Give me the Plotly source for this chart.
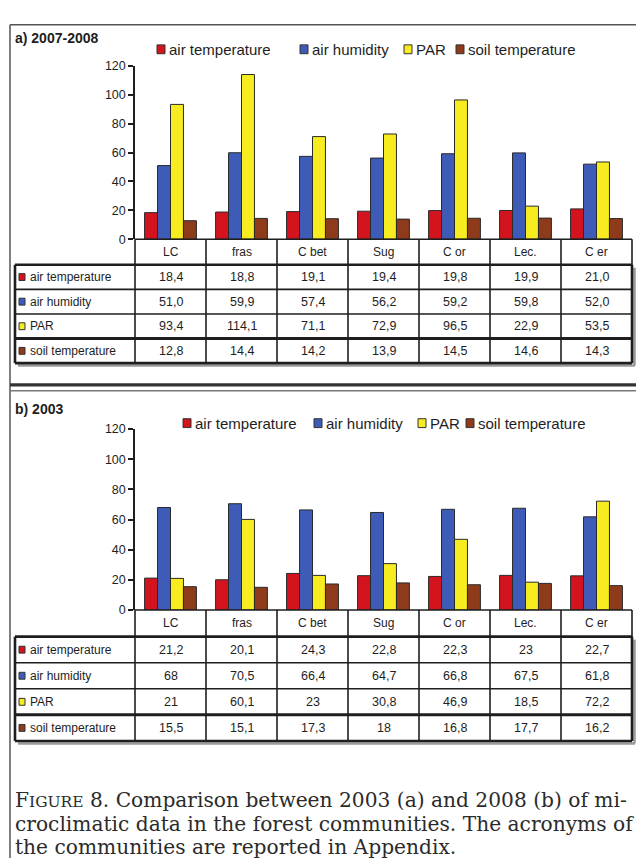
import plotly.graph_objects as go

# ---- data -------------------------------------------------------------
categories = ["LC", "fras", "C bet", "Sug", "C or", "Lec.", "C er"]
series_names = ["air temperature", "air humidity", "PAR", "soil temperature"]
series_colors = ["#D3141F", "#3E5BB7", "#F6EC1F", "#8E3B1B"]
y_ticks = [0, 20, 40, 60, 80, 100, 120]

# a) 2007-2008
air_temp_a = [18.4, 18.8, 19.1, 19.4, 19.8, 19.9, 21.0]
air_hum_a = [51.0, 59.9, 57.4, 56.2, 59.2, 59.8, 52.0]
par_a = [93.4, 114.1, 71.1, 72.9, 96.5, 22.9, 53.5]
soil_temp_a = [12.8, 14.4, 14.2, 13.9, 14.5, 14.6, 14.3]

# b) 2003
air_temp_b = [21.2, 20.1, 24.3, 22.8, 22.3, 23, 22.7]
air_hum_b = [68, 70.5, 66.4, 64.7, 66.8, 67.5, 61.8]
par_b = [21, 60.1, 23, 30.8, 46.9, 18.5, 72.2]
soil_temp_b = [15.5, 15.1, 17.3, 18, 16.8, 17.7, 16.2]

caption_lines = [
    "Comparison between 2003 (a) and 2008 (b) of mi-",
    "croclimatic data in the forest communities. The acronyms of",
    "the communities are reported in Appendix.",
]

# ---- page geometry (pixels) ------------------------------------------
W, H = 636, 865
SANS = "Liberation Sans, Arial, sans-serif"
SERIF = "DejaVu Serif, Liberation Serif, serif"
INK = "#1e1e1e"


def px(x):
    return x / W


def py(y):
    return 1 - y / H


COL_LEFT, COL_W = 135, 71
COL_RIGHT = COL_LEFT + COL_W * len(categories)
LABEL_LEFT = 15

panels = [
    dict(title="a) 2007-2008", series=[air_temp_a, air_hum_a, par_a, soil_temp_a],
         fmt=lambda v: f"{v:.1f}".replace(".", ","),
         title_y=32, legend_y=43,
         legend_sq=[157, 300, 404, 456],
         y_top=60, y_zero=236,
         rows=[262, 287, 312, 337, 362], xa="x", ya="y"),
    dict(title="b) 2003", series=[air_temp_b, air_hum_b, par_b, soil_temp_b],
         fmt=lambda v: f"{v:g}".replace(".", ","),
         title_y=409, legend_y=423,
         legend_sq=[183, 314, 418, 466],
         y_top=429, y_zero=613,
         rows=[640, 666.5, 693, 719.5, 746], xa="x2", ya="y2"),
]

fig = go.Figure()
shapes = []
annotations = []


def hline(x0, x1, y, width=1.5, color=INK):
    shapes.append(dict(type="line", xref="paper", yref="paper",
                       x0=px(x0), x1=px(x1), y0=py(y), y1=py(y),
                       line=dict(color=color, width=width)))


def vline(x, y0, y1, width=1.5, color=INK):
    shapes.append(dict(type="line", xref="paper", yref="paper",
                       x0=px(x), x1=px(x), y0=py(y0), y1=py(y1),
                       line=dict(color=color, width=width)))


def swatch(x, yc, color, w=7, h=8):
    shapes.append(dict(type="rect", xref="paper", yref="paper",
                       x0=px(x), x1=px(x + w), y0=py(yc + h / 2), y1=py(yc - h / 2),
                       fillcolor=color, line=dict(color="#333", width=1)))


def text(x, y, s, size=12.5, anchor="center", family=SANS, color=INK):
    annotations.append(dict(xref="paper", yref="paper", x=px(x), y=py(y),
                            text=s, showarrow=False, xanchor=anchor,
                            yanchor="middle", align=anchor if anchor != "center" else "center",
                            font=dict(family=family, size=size, color=color)))


for i, p in enumerate(panels):
    for name, color, vals in zip(series_names, series_colors, p["series"]):
        fig.add_trace(go.Bar(x=categories, y=vals, name=name,
                             marker=dict(color=color, line=dict(color="#2a2a2a", width=1)),
                             xaxis=p["xa"], yaxis=p["ya"], showlegend=False))

    suffix = "" if i == 0 else "2"
    fig.layout["xaxis" + suffix] = dict(
        domain=[px(COL_LEFT), px(COL_RIGHT)], range=[-0.5, len(categories) - 0.5],
        type="category", categoryorder="array", categoryarray=categories,
        showticklabels=False, ticks="", showline=False, showgrid=False,
        zeroline=False, anchor="y" + suffix, fixedrange=True)
    fig.layout["yaxis" + suffix] = dict(
        domain=[py(p["y_zero"]), py(p["y_top"])], range=[0, 120],
        tickvals=y_ticks, ticks="outside", ticklen=5, tickwidth=1.5, tickcolor=INK,
        showline=True, linecolor=INK, linewidth=1.5, showgrid=False, zeroline=False,
        tickfont=dict(family=SANS, size=12.5, color=INK),
        anchor="x" + suffix, fixedrange=True)

    # panel title and legend
    text(13, p["title_y"], f"<b>{p['title']}</b>", size=14, anchor="left")
    for name, color, sx in zip(series_names, series_colors, p["legend_sq"]):
        swatch(sx, p["legend_y"], color, w=8, h=9)
        text(sx + 10, p["legend_y"], name, size=15, anchor="left")

    # category header row
    yz, rows = p["y_zero"], p["rows"]
    hline(COL_LEFT, COL_RIGHT, yz, 1.5)
    for k in range(len(categories) + 1):
        vline(COL_LEFT + k * COL_W, yz, rows[-1], 1.6)
    for k, c in enumerate(categories):
        text(COL_LEFT + (k + 0.5) * COL_W, (yz + rows[0]) / 2, c, size=12)

    # data table
    hline(LABEL_LEFT + 3, COL_RIGHT + 3, rows[-1] + 2.5, 2.5, "#9a9a9a")
    vline(COL_RIGHT + 2.5, rows[0] + 3, rows[-1] + 2.5, 2.5, "#9a9a9a")
    hline(LABEL_LEFT, COL_RIGHT, rows[0], 2.6)
    hline(LABEL_LEFT, COL_RIGHT, rows[-1], 2.6)
    vline(LABEL_LEFT, rows[0], rows[-1], 2.6)
    vline(COL_RIGHT, rows[0], rows[-1], 2.6)
    for r in range(1, len(rows) - 1):
        hline(LABEL_LEFT, COL_RIGHT, rows[r], 3.0 if r == 3 else 1.6)
    for r, (name, color, vals) in enumerate(zip(series_names, series_colors, p["series"])):
        yc = (rows[r] + rows[r + 1]) / 2
        swatch(LABEL_LEFT + 4, yc, color, w=6, h=7)
        text(LABEL_LEFT + 13, yc, name, size=12, anchor="left")
        for k, v in enumerate(vals):
            text(COL_LEFT + (k + 0.5) * COL_W, yc, p["fmt"](v), size=12.5)

# frame and panel separator
vline(10, 18, H, 1.5, "#555")
hline(10, W, 18, 1.5, "#555")
hline(10, W, 384, 3.2, "#333")
hline(10, W, 390, 1.5, "#777")

# caption
caption_y = [806, 830, 854]
first = ('F<span style="font-size:15.5px">IGURE</span> 8. ' + caption_lines[0])
for y, line in zip(caption_y, [first] + caption_lines[1:]):
    text(13, y, line, size=20.2, anchor="left", family=SERIF, color="#2b2b2b")

fig.update_layout(
    width=W, height=H, margin=dict(l=0, r=0, t=0, b=0),
    paper_bgcolor="white", plot_bgcolor="white",
    barmode="group", bargap=0.27, bargroupgap=0.0,
    showlegend=False, shapes=shapes, annotations=annotations,
)

fig.write_html("out.html")
